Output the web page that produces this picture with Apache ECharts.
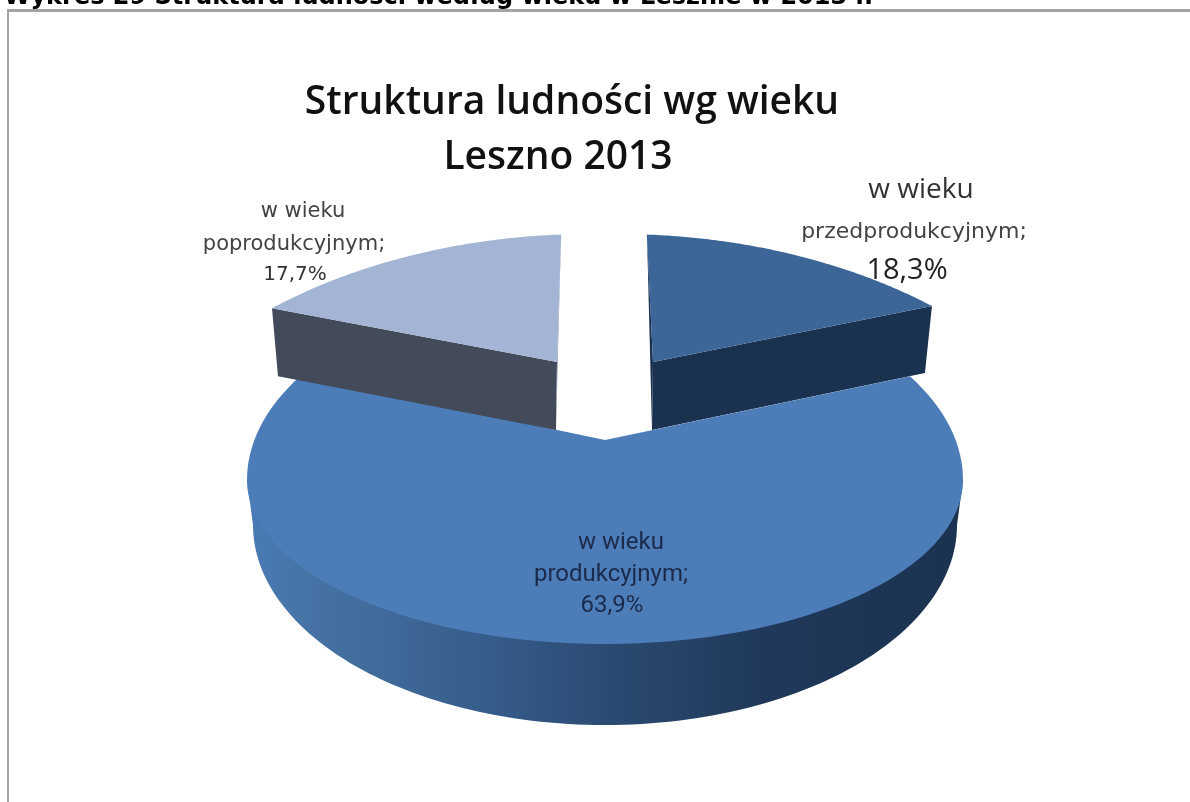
<!DOCTYPE html>
<html><head><meta charset="utf-8">
<style>html,body{margin:0;padding:0;background:#fff;overflow:hidden}#c{width:1190px;height:802px}</style>
<script src="https://cdn.jsdelivr.net/npm/echarts@6/dist/echarts.min.js"></script>
</head><body><div id="c"></div>
<script>
const categories = ['w wieku przedprodukcyjnym', 'w wieku produkcyjnym', 'w wieku poprodukcyjnym'];
const values = [18.3, 63.9, 17.7];
const valueLabels = ['18,3%', '63,9%', '17,7%'];
const pageTitle = 'Wykres 29 Struktura ludności według wieku w Lesznie w 2013 r.';
const chartTitle = ['Struktura ludności wg wieku', 'Leszno 2013'];

const rad = d => d * Math.PI / 180;
// Projection of each exploded slice of the 3D pie: rim ellipse, apex and extrusion.
const shapes = [
  {cx:618, cy:559, rx:500, ryUp:325, ryDown:325, apex:[653,362], t0:3.3, perValue:1.945,
   top:'#3c6698', side:'#1b3150', sliver:'#1b3150',
   apexDrop:[-1,68], rimDrop:[-7,67], rimTop:[647,235]},
  {cx:605, cy:480, rx:358, ryUp:198, ryDown:164, apex:[605,440], t0:58.4, perValue:3.806,
   top:'#4c7db9'},
  {cx:590, cy:559, rx:500, ryUp:325, ryDown:325, apex:[557,362], t0:-3.3, perValue:-2.045,
   top:'#a3b4d4', side:'#434b5a', sliver:'#8f9ab3',
   apexDrop:[-1,68], rimDrop:[6,68], rimTop:[561,235]}
];
const outerRim = {cx:605, cy:525, rx:352, ry:200};

function rimPoint(s, t) {
  const c = Math.cos(rad(t));
  return [s.cx + s.rx * Math.sin(rad(t)), s.cy - (c > 0 ? s.ryUp : s.ryDown) * c];
}
function rimArc(s, value) {
  const pts = [], n = 120, span = value * s.perValue;
  for (let i = 0; i <= n; i++) pts.push(rimPoint(s, s.t0 + span * i / n));
  return pts;
}
function renderSlice(params, api) {
  const idx = params.dataIndex, s = shapes[idx], value = api.value(1);
  const arc = rimArc(s, value), children = [];
  const poly = (points, fill) => ({type:'polygon', shape:{points}, style:{fill}});
  if (idx === 1) {
    const wall = [[247,480]];
    for (let i = 0; i <= 120; i++) {
      const a = rad(-90 + 180 * i / 120);
      wall.push([outerRim.cx + outerRim.rx * Math.sin(a), outerRim.cy + outerRim.ry * Math.cos(a)]);
    }
    wall.push([963,480]);
    children.push({type:'polygon', shape:{points:wall}, style:{fill:{
      type:'linear', x:0, y:0, x2:1, y2:0,
      colorStops:[{offset:0,color:'#4a7bb6'},{offset:0.12,color:'#44709f'},{offset:0.3,color:'#38608f'},
        {offset:0.5,color:'#2b4b73'},{offset:0.72,color:'#20395a'},{offset:1,color:'#1b3250'}]
    }}});
  } else {
    const end = arc[arc.length - 1], a = s.apex;
    const apexLow = [a[0] + s.apexDrop[0], a[1] + s.apexDrop[1]];
    children.push(poly([a, end, [end[0] + s.rimDrop[0], end[1] + s.rimDrop[1]], apexLow], s.side));
    children.push(poly([s.rimTop, a, apexLow], s.sliver));
  }
  children.push(poly([s.apex].concat(arc), s.top));
  return {type:'group', children};
}
const txt = (text, x, y, font, fill) => ({type:'text', z:20, style:{text, x, y, font, fill, textAlign:'center', textVerticalAlign:'middle'}, silent:true});
const F = '"Open Sans"', D = '"DejaVu Sans"';
const chart = echarts.init(document.getElementById('c'), null, {renderer:'canvas'});
chart.setOption({
  animation:false,
  backgroundColor:'#fff',
  series:[{
    type:'custom', coordinateSystem:'none', renderItem:renderSlice,
    data:categories.map((c,i)=>({name:c, value:[i, values[i]]}))
  }],
  graphic:[
    {type:'rect', shape:{x:7,y:9,width:1200,height:3}, style:{fill:'#a4a4a4'}, z:1},
    {type:'rect', shape:{x:7,y:9,width:2,height:800}, style:{fill:'#a4a4a4'}, z:1},
    {type:'text', z:5, style:{text:pageTitle, x:4, y:-14, font:'bold 24px "DejaVu Sans"', fill:'#000'}},
    txt(chartTitle[0], 572, 103, '600 39px '+F, '#111'),
    txt(chartTitle[1], 558, 158, '600 39px '+F, '#111'),
    txt('w wieku', 303, 212, '21px '+D, '#444'),
    txt('poprodukcyjnym;', 294, 245, '21px '+D, '#444'),
    txt(valueLabels[2], 295, 275, '20px '+D, '#333'),
    txt('w wieku', 921, 190, '500 28px '+F, '#333'),
    txt('przedprodukcyjnym;', 914, 232, '22px '+D, '#444'),
    txt(valueLabels[0], 907, 271, '29px '+F, '#222'),
    txt('w wieku', 621, 543, '24px Roboto', '#1b2a4a'),
    txt('produkcyjnym;', 611, 575, '24px Roboto', '#1b2a4a'),
    txt(valueLabels[1], 612, 606, '24px Roboto', '#1b2a4a')
  ]
});
</script></body></html>
